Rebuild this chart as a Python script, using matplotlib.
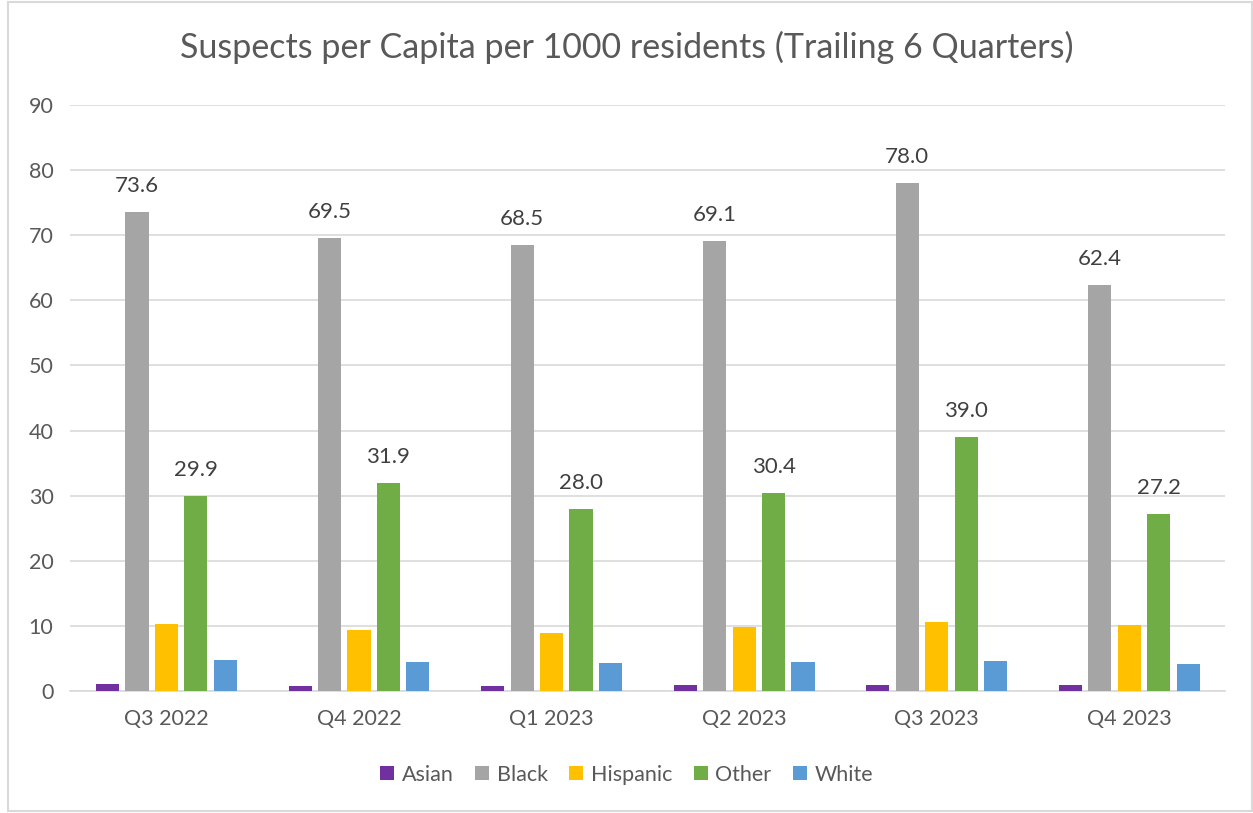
import numpy as np
import matplotlib
matplotlib.use("Agg")
from matplotlib import pyplot as plt
from matplotlib.patches import Rectangle

quarters = ["Q3 2022", "Q4 2022", "Q1 2023", "Q2 2023", "Q3 2023", "Q4 2023"]
asian = [1.1, 0.8, 0.8, 1.0, 1.0, 0.9]
black = [73.6, 69.5, 68.5, 69.1, 78.0, 62.4]
hispanic = [10.3, 9.3, 8.9, 9.9, 10.6, 10.2]
other = [29.9, 31.9, 28.0, 30.4, 39.0, 27.2]
white = [4.8, 4.4, 4.3, 4.5, 4.6, 4.1]

series = [("Asian", asian, "#7030a0"),
          ("Black", black, "#a5a5a5"),
          ("Hispanic", hispanic, "#ffc000"),
          ("Other", other, "#70ad47"),
          ("White", white, "#5b9bd5")]
labelled = ["Black", "Other"]

plt.rcParams['font.family'] = ['Lato', 'DejaVu Sans']
txt = "#595959"

fig = plt.figure(figsize=(12.53, 8.13), dpi=100)
ax = fig.add_axes([0.056, 0.150, 0.922, 0.721])

x = np.arange(len(quarters))
pitch = 0.153
width = 0.12
for i, (name, vals, col) in enumerate(series):
    pos = x + (i - 2) * pitch
    bars = ax.bar(pos, vals, width, color=col, label=name, zorder=3)
    if name in labelled:
        for p, v in zip(pos, vals):
            ax.text(p, v + 4.0, f"{v:.1f}", ha="center", va="center",
                    fontsize=16, color="#404040")

ax.set_xlim(-0.5, len(quarters) - 0.5)
ax.set_ylim(0, 90)
ax.set_yticks(range(0, 91, 10))
ax.set_xticks(x)
ax.set_xticklabels(quarters)
ax.yaxis.grid(True, color="#d9d9d9", linewidth=1.2, zorder=0)
for s in ["top", "right", "left"]:
    ax.spines[s].set_visible(False)
ax.spines["bottom"].set_color("#d9d9d9")
ax.spines["bottom"].set_linewidth(1.2)
ax.tick_params(axis="both", length=0, labelsize=15.5, colors=txt, pad=13)
ax.tick_params(axis="y", pad=12)

fig.suptitle("Suspects per Capita per 1000 residents (Trailing 6 Quarters)",
             y=0.962, fontsize=24.5, color=txt)

fig.legend(loc="center", bbox_to_anchor=(0.5, 0.047), ncol=5, frameon=False,
           fontsize=15.5, labelcolor=txt, handlelength=0.65, handleheight=0.65,
           handletextpad=0.35, columnspacing=1.0)

fig.patches.append(Rectangle((0.006, 0.003), 0.993, 0.994, transform=fig.transFigure,
                             fill=False, edgecolor="#d9d9d9", linewidth=1.5))

fig.savefig("out.png", dpi=100)
